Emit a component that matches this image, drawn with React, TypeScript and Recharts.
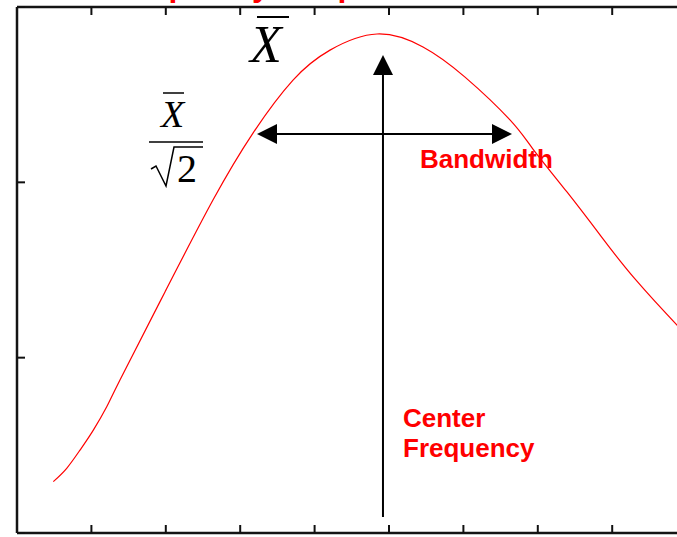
import React from "react";
import { LineChart, Line, XAxis, YAxis, ReferenceLine } from "recharts";

// Resonance curve samples (frequency in tick units, amplitude in tick units)
const freq = [
  0.488, 0.668, 0.847, 1.026, 1.206, 1.384, 1.989, 2.634, 3.172, 3.71, 4.207,
  4.839, 5.457, 6.022, 6.626, 6.935, 7.392, 7.836, 8.306, 8.871, 8.992,
];
const amplitude = [
  0.293, 0.369, 0.473, 0.587, 0.72, 0.873, 1.375, 1.899, 2.281, 2.583, 2.754,
  2.846, 2.772, 2.6, 2.356, 2.19, 1.945, 1.7, 1.449, 1.186, 1.135,
];

const xTicks = [0, 1, 2, 3, 4, 5, 6, 7, 8, 9];
const yTicks = [0, 1, 2, 3];

// Annotation positions, in the same units as the curve
const centerFreq = 4.919;
const arrowFloor = 0.091;
const arrowTop = 2.726;
const bandLevel = 2.276;
const bandLow = 3.226;
const bandHigh = 6.653;

const data = freq.map((f, i) => ({ f, a: amplitude[i] }));

const RED = "#ff0000";
const SANS = "'Liberation Sans', Arial, sans-serif";
const SERIF = "'Liberation Serif', 'Times New Roman', serif";

// tick marks only, no labels
const noLabel = () => <g />;

function arrowHead(tx: number, ty: number, ux: number, uy: number) {
  const len = 20;
  const half = 10;
  const bx = tx - ux * len;
  const by = ty - uy * len;
  const nx = -uy;
  const ny = ux;
  return `${tx},${ty} ${bx + nx * half},${by + ny * half} ${bx - nx * half},${by - ny * half}`;
}

function Arrow(props: any) {
  const { x1, y1, x2, y2, both } = props;
  const dx = x2 - x1;
  const dy = y2 - y1;
  const d = Math.hypot(dx, dy) || 1;
  const ux = dx / d;
  const uy = dy / d;
  const sx = both ? x1 + ux * 19 : x1;
  const sy = both ? y1 + uy * 19 : y1;
  return (
    <g>
      <line x1={sx} y1={sy} x2={x2 - ux * 19} y2={y2 - uy * 19} stroke="#000" strokeWidth={2} />
      <polygon points={arrowHead(x2, y2, ux, uy)} fill="#000" />
      {both && <polygon points={arrowHead(x1, y1, -ux, -uy)} fill="#000" />}
    </g>
  );
}

export default function App() {
  const axisLine = { stroke: "#141414", strokeWidth: 2.5 };
  const tickLine = { stroke: "#111", strokeWidth: 2 };
  return (
    <div
      style={{
        position: "absolute",
        left: 0,
        top: 0,
        width: 677,
        height: 537,
        overflow: "hidden",
        background: "#fff",
      }}
    >
      <LineChart
        width={700}
        height={537}
        data={data}
        margin={{ top: 6, left: 16, right: 12.4, bottom: 3 }}
      >
        <XAxis
          xAxisId="b"
          dataKey="f"
          type="number"
          domain={[0, 9]}
          ticks={xTicks}
          interval={0}
          height={1}
          tick={noLabel}
          tickSize={-8}
          axisLine={axisLine}
          tickLine={tickLine}
        />
        <XAxis
          xAxisId="t"
          orientation="top"
          dataKey="f"
          type="number"
          domain={[0, 9]}
          ticks={xTicks}
          interval={0}
          height={1}
          tick={noLabel}
          tickSize={-8}
          axisLine={axisLine}
          tickLine={tickLine}
        />
        <YAxis
          yAxisId="l"
          type="number"
          domain={[0, 3]}
          ticks={yTicks}
          interval={0}
          width={1}
          tick={noLabel}
          tickSize={-8}
          axisLine={axisLine}
          tickLine={tickLine}
        />
        <YAxis
          yAxisId="r"
          orientation="right"
          type="number"
          domain={[0, 3]}
          ticks={yTicks}
          interval={0}
          width={1}
          tick={noLabel}
          tickSize={-8}
          axisLine={axisLine}
          tickLine={tickLine}
        />
        <Line
          xAxisId="b"
          yAxisId="l"
          dataKey="a"
          type="natural"
          stroke={RED}
          strokeWidth={1.2}
          dot={false}
          isAnimationActive={false}
        />
        <ReferenceLine
          xAxisId="b"
          yAxisId="l"
          segment={[
            { x: centerFreq, y: arrowFloor },
            { x: centerFreq, y: arrowTop },
          ]}
          shape={(p: any) => <Arrow {...p} />}
        />
        <ReferenceLine
          xAxisId="b"
          yAxisId="l"
          segment={[
            { x: bandLow, y: bandLevel },
            { x: bandHigh, y: bandLevel },
          ]}
          shape={(p: any) => <Arrow {...p} both />}
        />
      </LineChart>
      <svg
        width={677}
        height={537}
        style={{ position: "absolute", left: 0, top: 0, pointerEvents: "none" }}
      >
        <text x={108} y={-4} fill={RED} fontFamily={SANS} fontWeight="bold" fontSize={32}>
          Frequency Response
        </text>
        <text x={420} y={168} fill={RED} fontFamily={SANS} fontWeight="bold" fontSize={26}>
          Bandwidth
        </text>
        <text x={403} y={427} fill={RED} fontFamily={SANS} fontWeight="bold" fontSize={26}>
          Center
        </text>
        <text x={403} y={457} fill={RED} fontFamily={SANS} fontWeight="bold" fontSize={26}>
          Frequency
        </text>

        {/* peak amplitude X-bar */}
        <text x={250} y={62} fontFamily={SERIF} fontStyle="italic" fontSize={52} fill="#000">
          X
        </text>
        <line x1={257} y1={17} x2={289} y2={17} stroke="#000" strokeWidth={2} />

        {/* half-power level X-bar / sqrt(2) */}
        <text x={161} y={127} fontFamily={SERIF} fontStyle="italic" fontSize={38} fill="#000">
          X
        </text>
        <line x1={163} y1={93} x2={184} y2={93} stroke="#000" strokeWidth={1.5} />
        <line x1={149} y1={142} x2={203} y2={142} stroke="#000" strokeWidth={1.5} />
        <path
          d="M151 169 L156 166 L166 186 L174 147 L203 147"
          fill="none"
          stroke="#000"
          strokeWidth={1.5}
          strokeLinejoin="miter"
        />
        <text x={177} y={182} fontFamily={SERIF} fontSize={40} fill="#000">
          2
        </text>
      </svg>
    </div>
  );
}
